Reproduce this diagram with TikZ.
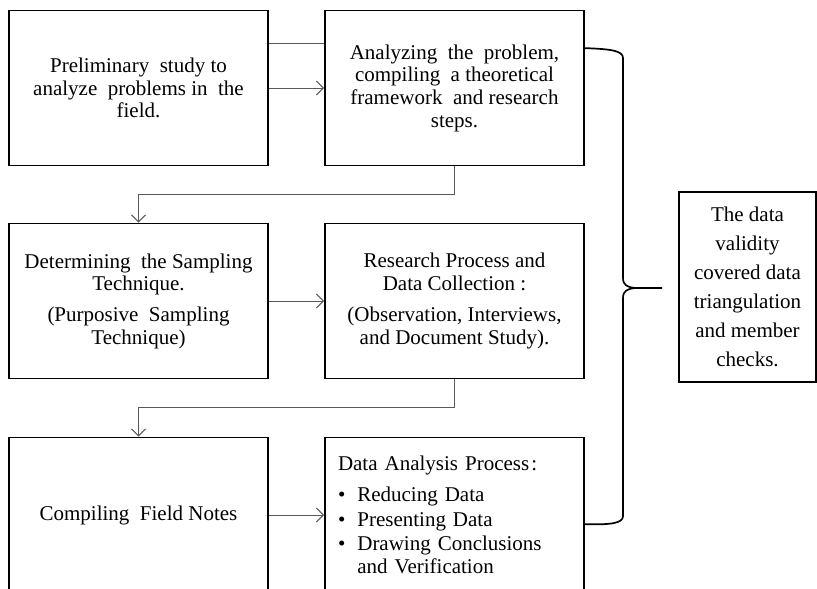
\documentclass[tikz,border=0pt]{standalone}
\usepackage{fontspec}
\setmainfont{Liberation Serif}
\usetikzlibrary{arrows.meta}

\begin{document}
\begin{tikzpicture}[x=1pt,y=-1pt,
    stage/.style={draw=black,line width=1.7pt,minimum width=259pt,
        minimum height=155pt,align=center,inner sep=0pt,
        font=\fontsize{21}{22.7}\selectfont},
    link/.style={draw=black!65,line width=1pt},
    flow/.style={link,-{Straight Barb[length=7pt,width=14pt]}},
    brace/.style={draw=black,line width=1.7pt,line join=round},
    ]
    % Page frame
    \clip (0,0) rectangle (817,589);
    % Left column
    \node[stage] (prelim) at (138.5,88)
        {Preliminary \ study to\\analyze \ problems in \ the\\field.};
    \node[stage] (sampling) at (138.5,301)
        {Determining \ the Sampling\\Technique.\\[8pt](Purposive \ Sampling\\Technique)};
    \node[stage] (fieldnotes) at (138.5,515) {Compiling \ Field Notes};
    % Right column
    \node[stage] (analyze) at (454.5,88)
        {Analyzing \ the \ problem,\\compiling \ a theoretical\\framework \ and research\\steps.};
    \node[stage] (process) at (454.5,301)
        {Research Process and\\Data Collection :\\[8pt](Observation, Interviews,\\and Document Study).};
    \node[stage,align=left,text width=233pt] (analysis) at (454.5,515)
        {Data Analysis Process\hspace{2pt}:\\[8pt]
         \textbullet\hspace{12pt}Reducing Data\\[2pt]
         \textbullet\hspace{12pt}Presenting Data\\[2pt]
         \textbullet\hspace{12pt}Drawing Conclusions\\
         \hphantom{\textbullet}\hspace{12pt}and Verification};
    % Validity box
    \node[stage,minimum width=137pt,minimum height=190pt,
        font=\fontsize{21}{29}\selectfont] (validity) at (747.5,287)
        {The data\\validity\\covered data\\triangulation\\and member\\checks.};

    % Connectors
    \draw[link] ([yshift=-33.5pt]prelim.north east)
        -- ([yshift=-33.5pt]analyze.north west);
    \draw[flow] (prelim) -- (analyze);
    \draw[flow] (analyze.south) -- ++(0,28) -| (sampling.north);
    \draw[flow] (sampling) -- (process);
    \draw[flow] (process.south) -- ++(0,28) -| (fieldnotes.north);
    \draw[flow] (fieldnotes) -- (analysis);

    % Brace
    \coordinate (tip) at (662,288);
    \draw[brace] ([yshift=-38.5pt]analyze.north east)
        .. controls (612,49) and (623,51) .. (623,58) -- (623,278)
        .. controls (623,285) and (627,287.5) .. (636,288) -- (tip);
    \draw[brace] (636,288)
        .. controls (627,288.5) and (623,291) .. (623,298) -- (623,516)
        .. controls (623,523) and (612,525) .. ([yshift=-87.5pt]analysis.north east);
\end{tikzpicture}
\end{document}
